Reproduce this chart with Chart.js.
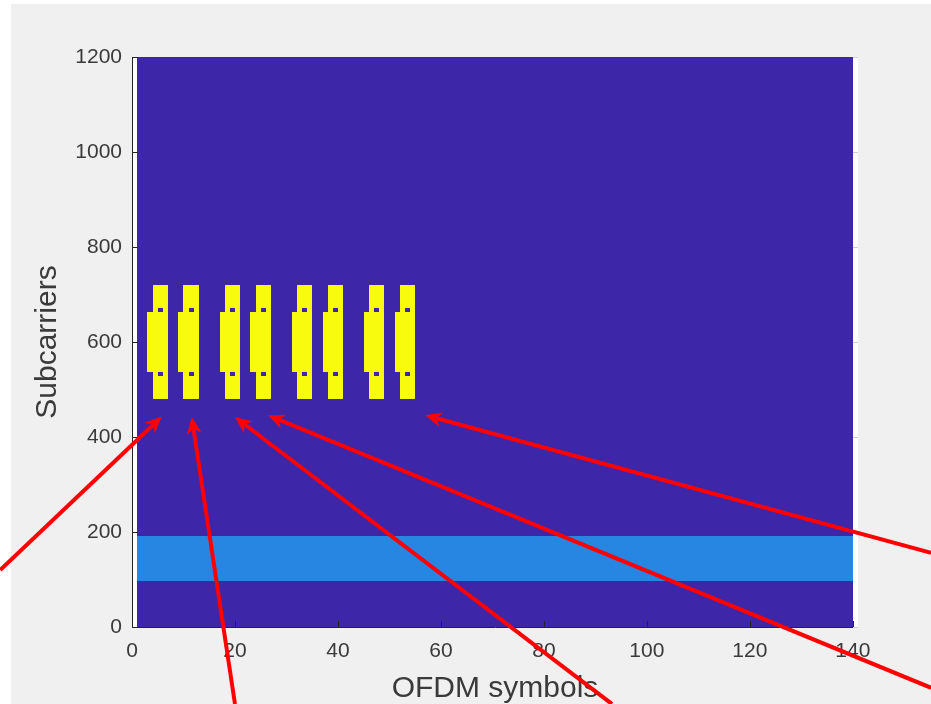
<!DOCTYPE html>
<html>
<head>
<meta charset="utf-8">
<script src="https://cdn.jsdelivr.net/npm/chart.js@4.4.0/dist/chart.umd.min.js"></script>
<style>
  html, body { margin: 0; padding: 0; background: #ffffff; }
  #wrap { width: 931px; height: 704px; }
</style>
</head>
<body>
<div id="wrap"><canvas id="out" width="931" height="704"></canvas></div>
<script>
// resource grid: OFDM symbols on x, subcarriers on y
const symbolRange = [1, 140];
const subcarrierRange = [0, 1200];
const ssbSymbols = [2, 8, 16, 22, 30, 36, 44, 50]; // PSS symbol of each SS block (0-based)
const ssbBand = [480, 720];   // PBCH / SSS symbols
const pssBand = [536, 663];   // PSS symbol
const sssGaps = [[528, 536], [663, 672]];
const pdschBand = [96, 192];
const xTicks = [0, 20, 40, 60, 80, 100, 120, 140];
const yTicks = [0, 200, 400, 600, 800, 1000, 1200];

// red arrows, axis units (tails go past the axes)
const arrowTips = [[5.8, 443], [11.6, 442], [20.0, 442], [26.4, 446], [56.9, 446]];
const arrowTails = [[-25.6, 120], [20.0, -162], [93.2, -162], [155.2, -128], [155.2, 156]];

const lowColor = "rgb(62, 38, 168)";
const bandColor = "rgb(38, 134, 226)";
const ssbColor = "rgb(249, 251, 14)";
const textColor = "#3a3a3a";

const figurePlugin = {
  id: "figure",
  beforeDraw(chart) {
    const ctx = chart.ctx;
    ctx.save();
    ctx.fillStyle = "#ffffff";
    ctx.fillRect(0, 0, chart.width, chart.height);
    ctx.fillStyle = "#f0f0f0";
    ctx.fillRect(11, 4, chart.width - 11, chart.height - 4);
    ctx.restore();
  }
};

const gridPlugin = {
  id: "grid",
  beforeDatasetsDraw(chart) {
    const { ctx, chartArea: a, scales: { x, y } } = chart;
    ctx.save();
    ctx.fillStyle = "#ffffff";
    ctx.fillRect(a.left, a.top, a.right - a.left, a.bottom - a.top);
    const rect = (x0, x1, y0, y1, color) => {
      const l = Math.round(x.getPixelForValue(x0));
      const r = Math.round(x.getPixelForValue(x1));
      const t = Math.round(y.getPixelForValue(y1));
      const b = Math.round(y.getPixelForValue(y0));
      ctx.fillStyle = color;
      ctx.fillRect(l, t, r - l, b - t);
    };
    rect(symbolRange[0], symbolRange[1], subcarrierRange[0], subcarrierRange[1], lowColor);
    rect(symbolRange[0], symbolRange[1], pdschBand[0], pdschBand[1], bandColor);
    for (const s of ssbSymbols) {
      rect(s + 1, s + 2, pssBand[0], pssBand[1], ssbColor);
      rect(s + 2, s + 5, ssbBand[0], ssbBand[1], ssbColor);
      for (const g of sssGaps) {
        rect(s + 3, s + 4, g[0], g[1], lowColor);
      }
    }
    ctx.restore();
  },
  afterDatasetsDraw(chart) {
    const { ctx, chartArea: a, scales: { x, y } } = chart;
    ctx.save();
    ctx.strokeStyle = "#262626";
    ctx.lineWidth = 1;
    ctx.beginPath();
    ctx.moveTo(a.left + 0.5, a.top);
    ctx.lineTo(a.left + 0.5, a.bottom + 0.5);
    ctx.lineTo(a.right, a.bottom + 0.5);
    ctx.stroke();
    // small inward ticks
    ctx.beginPath();
    for (const v of yTicks) {
      const py = Math.round(y.getPixelForValue(v)) + 0.5;
      ctx.moveTo(a.left, py);
      ctx.lineTo(a.left + 6, py);
    }
    for (const v of xTicks) {
      const px = Math.round(x.getPixelForValue(v)) + 0.5;
      ctx.moveTo(px, a.bottom);
      ctx.lineTo(px, a.bottom - 6);
    }
    ctx.stroke();
    ctx.strokeStyle = "#d0d0d0";
    ctx.beginPath();
    for (const v of yTicks) {
      const py = Math.round(y.getPixelForValue(v)) + 0.5;
      ctx.moveTo(a.right, py);
      ctx.lineTo(a.right - 5, py);
    }
    ctx.stroke();
    ctx.restore();
  },
  afterDraw(chart) {
    const { ctx, scales: { x, y } } = chart;
    ctx.save();
    ctx.strokeStyle = "#ff0000";
    ctx.fillStyle = "#ff0000";
    ctx.lineWidth = 4;
    const headLen = 17, headHalf = 7.5;
    for (let i = 0; i < arrowTips.length; i++) {
      const tx = x.getPixelForValue(arrowTips[i][0]);
      const ty = y.getPixelForValue(arrowTips[i][1]);
      const sx = x.getPixelForValue(arrowTails[i][0]);
      const sy = y.getPixelForValue(arrowTails[i][1]);
      const ang = Math.atan2(ty - sy, tx - sx);
      const c = Math.cos(ang), s = Math.sin(ang);
      const bx = tx - headLen * c, by = ty - headLen * s;
      const nx = tx - headLen * 0.7 * c, ny = ty - headLen * 0.7 * s;
      ctx.beginPath();
      ctx.moveTo(sx, sy);
      ctx.lineTo(nx, ny);
      ctx.stroke();
      ctx.beginPath();
      ctx.moveTo(tx, ty);
      ctx.lineTo(bx - headHalf * s, by + headHalf * c);
      ctx.lineTo(nx, ny);
      ctx.lineTo(bx + headHalf * s, by - headHalf * c);
      ctx.closePath();
      ctx.fill();
    }
    ctx.restore();
  }
};

const canvasCtx = document.getElementById("out").getContext("2d");
const chartConfig = {
  type: "scatter",
  data: { datasets: [{ data: [], showLine: false }] },
  options: {
    responsive: false,
    animation: false,
    devicePixelRatio: 1,
    events: [],
    layout: { padding: { left: 0, top: 57, right: 73, bottom: 0 } },
    plugins: { legend: { display: false }, tooltip: { enabled: false } },
    scales: {
      x: {
        type: "linear",
        min: 0,
        max: 141,
        afterBuildTicks(scale) { scale.ticks = xTicks.map(v => ({ value: v })); },
        afterFit(scale) { scale.height = 77; },
        grid: { display: false, drawTicks: false },
        border: { display: false },
        ticks: {
          autoSkip: false, maxRotation: 0, padding: 12, color: textColor,
          callback: v => String(v),
          font: { family: "'Liberation Sans', Arial, sans-serif", size: 21 }
        },
        title: {
          display: true, text: "OFDM symbols", color: textColor,
          padding: { top: 0, bottom: 0 },
          font: { family: "'Liberation Sans', Arial, sans-serif", size: 30, lineHeight: 1 }
        }
      },
      y: {
        type: "linear",
        min: 0,
        max: 1200,
        afterBuildTicks(scale) { scale.ticks = yTicks.map(v => ({ value: v })); },
        afterFit(scale) { scale.width = 132; },
        grid: { display: false, drawTicks: false },
        border: { display: false },
        ticks: {
          padding: 10, color: textColor,
          callback: v => String(v),
          font: { family: "'Liberation Sans', Arial, sans-serif", size: 21 }
        },
        title: {
          display: true, text: "Subcarriers", color: textColor,
          padding: { top: 33, bottom: 0 },
          font: { family: "'Liberation Sans', Arial, sans-serif", size: 30, lineHeight: 1 }
        }
      }
    }
  },
  plugins: [figurePlugin, gridPlugin]
};

window.chart = new Chart(canvasCtx, chartConfig);
</script>
</body>
</html>
